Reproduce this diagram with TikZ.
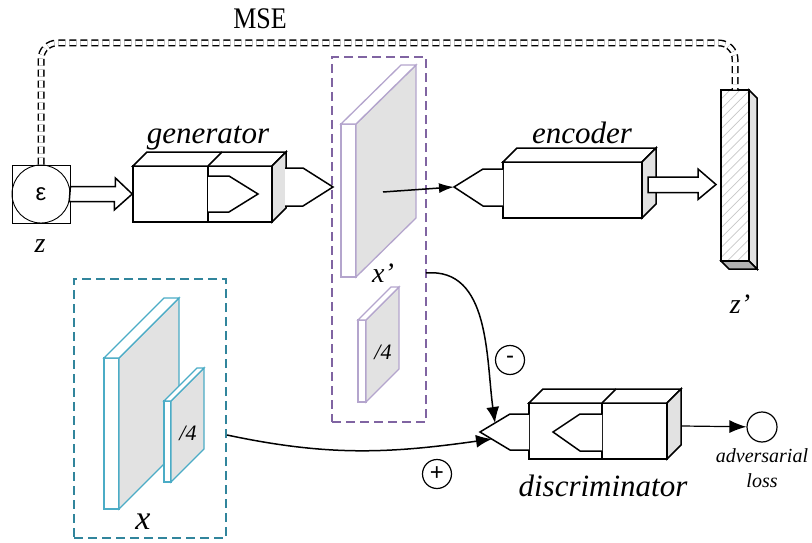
\documentclass[tikz,border=0pt]{standalone}
\usepackage{fontspec}
\setmainfont{Liberation Serif}
\newfontfamily\arialfont{Liberation Sans}
\usetikzlibrary{arrows.meta,patterns.meta}
\definecolor{xpline}{RGB}{128,100,162}
\definecolor{xpslab}{RGB}{180,165,205}
\definecolor{xline}{RGB}{49,133,156}
\definecolor{xslab}{RGB}{75,172,198}
\definecolor{facegrey}{RGB}{226,226,226}

\begin{document}
\begin{tikzpicture}[x=1pt,y=-1pt,
  block/.style={draw,line width=1.5pt,line join=miter,fill=white},
  sideface/.style={block,fill=facegrey},
  hollow/.style={draw,line width=1.5pt,fill=white},
  slab/.style={line width=1.3pt,fill=white},
  label/.style={font=\itshape\fontsize{31}{31}\selectfont,anchor=base},
  small/.style={font=\itshape\fontsize{20}{20}\selectfont,anchor=base},
  conn/.style={line width=1.5pt,-{Latex[length=16pt,width=13pt]}},
  sign/.style={draw,circle,line width=1.2pt,minimum size=29pt,inner sep=0pt,font=\arialfont\fontsize{24}{24}\selectfont}]
  \useasboundingbox (0,0) rectangle (812,543);

  % z
  \node[draw,line width=0.8pt,minimum size=58pt,inner sep=0pt] (z) at (41,194) {};
  \node[draw,circle,line width=0.9pt,minimum size=58pt,inner sep=0pt,font=\arialfont\fontsize{24}{24}\selectfont] (eps) at (z) {ε};
  \node[label,font=\itshape\fontsize{28}{28}\selectfont] (zlab) at (40,252) {z};

  % generator
  \node[block,minimum width=75pt,minimum height=56pt,inner sep=0pt] (gen1) at (170.5,194) {};
  \node[block,minimum width=64pt,minimum height=56pt,inner sep=0pt] (gen2) at (240,194) {};
  \draw[block] (133,166) -- (147,152) -- (286,152) -- (272,166) -- cycle;
  \draw[block] (208,166) -- (222,152);
  \draw[sideface] (272,166) -- (286,152) -- (286,208) -- (272,222) -- cycle;
  \draw[block] (208,176) -- (229,176) -- (258,194) -- (229,212) -- (208,212);
  \draw[block] (285,168) -- (303,168) -- (333,187) -- (303,206) -- (285,206);
  \node[label] (genlab) at (208,143) {generator};

  \draw[hollow] ([yshift=7.5pt]z.east) -- ++(45,0) -- ++(0,-8.5) -- (gen1.west) -- ++(-18,16) -- ++(0,-8.5) -- ++(-45,0) -- cycle;

  % x'
  \node[draw,xpline,dash pattern=on 9pt off 5pt,line width=1.5pt,minimum width=94pt,minimum height=365pt] (xpbox) at (379,239.5) {};
  \draw[slab,draw=xpslab] (341,124) rectangle (356,277);
  \draw[slab,draw=xpslab,fill=facegrey] (356,124) -- (416,65) -- (416,218) -- (356,277) -- cycle;
  \draw[slab,draw=xpslab] (341,124) -- (401,65) -- (416,65) -- (356,124) -- cycle;
  \draw[slab,draw=xpslab] (358,320) rectangle (366,402);
  \draw[slab,draw=xpslab,fill=facegrey] (366,320) -- (399,287) -- (399,369) -- (366,402) -- cycle;
  \draw[slab,draw=xpslab] (358,320) -- (391,287) -- (399,287) -- (366,320) -- cycle;
  \node[label,font=\itshape\fontsize{22}{22}\selectfont] (xpq) at (383,359) {/4};
  \node[label,font=\itshape\fontsize{28}{28}\selectfont] (xplab) at (383,282) {x'};
  \coordinate (xpc) at (383,192);
  \coordinate (xpout) at (426,273);

  % encoder
  \node[block,minimum width=139pt,minimum height=56pt,inner sep=0pt] (enc) at (572.5,190) {};
  \draw[block] (503,162) -- (517,148) -- (656,148) -- (642,162) -- cycle;
  \draw[sideface] (642,162) -- (656,148) -- (656,204) -- (642,218) -- cycle;
  \draw[block] (503,169) -- (483,169) -- (454,187) -- (483,206) -- (503,206);
  \coordinate (encin) at (454,187);
  \node[label] (enclab) at (582,143) {encoder};
  \draw[line width=1.5pt,-{Latex[length=15pt,width=10pt]}] (xpc) -- (encin);

  % z'
  \node[draw,line width=1.5pt,minimum width=28pt,minimum height=171pt,inner sep=0pt,
        pattern={Lines[angle=45,distance=7pt,line width=0.7pt]},pattern color=black!22] (zp) at (735,175.5) {};
  \draw[block,fill=facegrey] (749,90) -- (757,98) -- (757,269) -- (749,261) -- cycle;
  \draw[block,fill=black!30] (721,261) -- (729,269) -- (757,269) -- (749,261) -- cycle;
  \node[label,font=\itshape\fontsize{28}{28}\selectfont] (zplab) at (740,313) {z'};

  \draw[hollow] (648,177) -- ++(50,0) -- ++(0,-8) -- (716,184.5) -- ++(-18,15) -- ++(0,-7) -- ++(-50,0) -- cycle;

  % MSE
  \coordinate (mseline) at (390,43);
  \draw[line width=1.5pt,dash pattern=on 7pt off 4pt,double,double distance=4pt,rounded corners=16pt]
    (z.north) -- (z.north |- mseline) -- (zp.north |- mseline) -- (zp.north);
  \node[font=\fontsize{26}{26}\selectfont,yscale=1.15] (mse) at (260,19) {MSE};

  % x
  \node[draw,xline,dash pattern=on 9pt off 5pt,line width=1.5pt,minimum width=152pt,minimum height=259pt] (xbox) at (150,408.5) {};
  \draw[slab,draw=xslab] (104,358) rectangle (119,509);
  \draw[slab,draw=xslab,fill=facegrey] (119,358) -- (179,298) -- (179,449) -- (119,509) -- cycle;
  \draw[slab,draw=xslab] (104,358) -- (164,298) -- (179,298) -- (119,358) -- cycle;
  \draw[slab,draw=xslab] (164,401) rectangle (171,482);
  \draw[slab,draw=xslab,fill=facegrey] (171,401) -- (204,368) -- (204,449) -- (171,482) -- cycle;
  \draw[slab,draw=xslab] (164,401) -- (197,368) -- (204,368) -- (171,401) -- cycle;
  \node[label,font=\itshape\fontsize{22}{22}\selectfont] (xq) at (188,440) {/4};
  \node[label,font=\itshape\fontsize{34}{34}\selectfont] (xlab) at (143,529) {x};
  \coordinate (xout) at (227,435);

  % discriminator
  \node[block,minimum width=73pt,minimum height=56pt,inner sep=0pt] (disc1) at (565.5,431) {};
  \node[block,minimum width=65pt,minimum height=56pt,inner sep=0pt] (disc2) at (634.5,431) {};
  \draw[block] (529,403) -- (543,389) -- (681,389) -- (667,403) -- cycle;
  \draw[block] (602,403) -- (616,389);
  \draw[sideface] (667,403) -- (681,389) -- (681,445) -- (667,459) -- cycle;
  \draw[block] (602,414) -- (580,414) -- (553,432) -- (580,451) -- (602,451);
  \draw[block] (529,414) -- (510,414) -- (480,432) -- (510,450) -- (529,450);
  \node[label] (disclab) at (603,496) {discriminator};
  \coordinate (dtop) at (495,423);
  \coordinate (dbot) at (492,439);
  \coordinate (dout) at (682,426);

  \node[draw,circle,line width=1.2pt,minimum size=30pt,inner sep=0pt] (loss) at (762,427) {};
  \node[small] (advlab) at (762,462) {adversarial};
  \node[small] (losslab) at (762,487) {loss};
  \draw[line width=1.2pt,-{Latex[length=17pt,width=13pt]}] (dout) -- (loss);

  \draw[conn] (xpout) to[out=5,in=98] (dtop);
  \draw[conn] (xout) to[out=-12,in=188] (dbot);
  \node[sign] (minus) at (510,360) {-};
  \node[sign] (plus) at (437,474) {+};

\end{tikzpicture}
\end{document}
